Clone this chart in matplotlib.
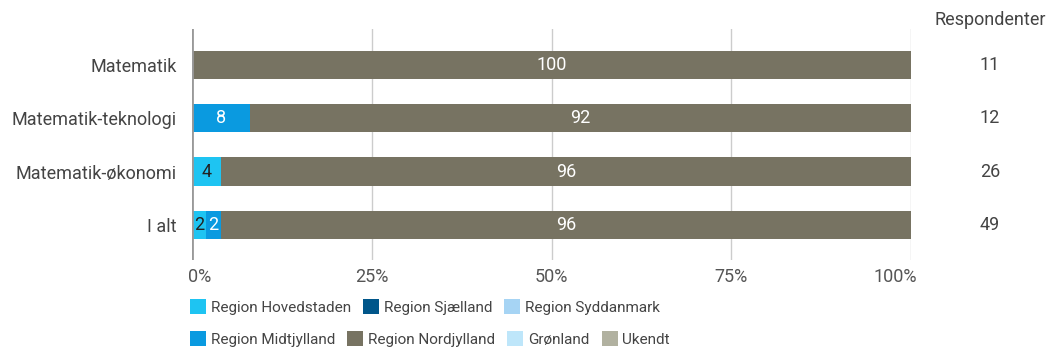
import matplotlib.pyplot as plt
import matplotlib.transforms as mtransforms
from matplotlib.patches import Patch

plt.rcParams['font.family'] = ['Roboto', 'DejaVu Sans']

# Share of students (%) per region for each study programme
categories = ["Matematik", "Matematik-teknologi", "Matematik-økonomi", "I alt"]
regions = ["Region Hovedstaden", "Region Sjælland", "Region Syddanmark",
           "Region Midtjylland", "Region Nordjylland", "Grønland", "Ukendt"]
colors = ["#1ec4f2", "#00568a", "#a6d4f4", "#0a9ae0", "#777362", "#bee6fa", "#b1b1a0"]
label_colors = ["#222222", "white", "#222222", "white", "white", "#222222", "#222222"]
shares = {
    "Region Hovedstaden": [0, 0, 4, 2],
    "Region Sjælland": [0, 0, 0, 0],
    "Region Syddanmark": [0, 0, 0, 0],
    "Region Midtjylland": [0, 8, 0, 2],
    "Region Nordjylland": [100, 92, 96, 96],
    "Grønland": [0, 0, 0, 0],
    "Ukendt": [0, 0, 0, 0],
}
respondents = [11, 12, 26, 49]

fig = plt.figure(figsize=(10.48, 3.53), dpi=100)
ax = fig.add_axes([192 / 1048, 93 / 353, 719 / 1048, 231 / 353])

ypos = list(range(len(categories)))
left = [0] * len(categories)
for reg, col, lc in zip(regions, colors, label_colors):
    vals = shares[reg]
    ax.barh(ypos, vals, left=left, height=0.53, color=col, zorder=3)
    for y, v, l in zip(ypos, vals, left):
        if v > 0:
            ax.text(l + v / 2, y, f"{v}", ha='center', va='center',
                    color=lc, fontsize=13, zorder=4)
    left = [a + b for a, b in zip(left, vals)]

ax.set_xlim(0, 100)
ax.set_ylim(3.66, -0.675)
ax.set_yticks(ypos)
ax.set_yticklabels(categories, fontsize=13, color='#444444')
ax.set_xticks([0, 25, 50, 75, 100])
ax.set_xticklabels(["0%", "25%", "50%", "75%", "100%"], fontsize=13, color='#555555')
ax.tick_params(axis='y', length=0, pad=11)
ax.tick_params(axis='x', length=0, pad=6)

# first and last tick labels are nudged inwards
xlabels = ax.get_xticklabels()
xlabels[0].set_ha('left')
xlabels[0].set_transform(xlabels[0].get_transform() +
                         mtransforms.ScaledTranslation(-3 / 72, 0, fig.dpi_scale_trans))
xlabels[-1].set_ha('right')
xlabels[-1].set_transform(xlabels[-1].get_transform() +
                          mtransforms.ScaledTranslation(4 / 72, 0, fig.dpi_scale_trans))

for s in ax.spines.values():
    s.set_visible(False)
ax.grid(axis='x', color='#cccccc', linewidth=1, zorder=0)
ax.axvline(0, color='#999999', linewidth=2, zorder=5)

# Respondent count column on the right
ax.text(1.11, 1.0, "Respondenter", transform=ax.transAxes, ha='center',
        va='bottom', fontsize=13, color='#444444')
for y, n in zip(ypos, respondents):
    ax.text(1.11, y, str(n), transform=ax.get_yaxis_transform(), ha='center',
            va='center', fontsize=13, color='#444444')

handles = [Patch(facecolor=c, edgecolor='none', label=r) for r, c in zip(regions, colors)]
leg_kw = dict(frameon=False, handlelength=1.05, handleheight=1.05, handletextpad=0.3,
              columnspacing=0.8, fontsize=11, borderaxespad=0, labelcolor='#444444')
fig.legend(handles=handles[:3], ncol=3, loc='center left',
           bbox_to_anchor=(184 / 1048, 1 - 307 / 353), **leg_kw)
fig.legend(handles=handles[3:], ncol=4, loc='center left',
           bbox_to_anchor=(184 / 1048, 1 - 339 / 353), **leg_kw)

fig.savefig("out.png", dpi=100)
